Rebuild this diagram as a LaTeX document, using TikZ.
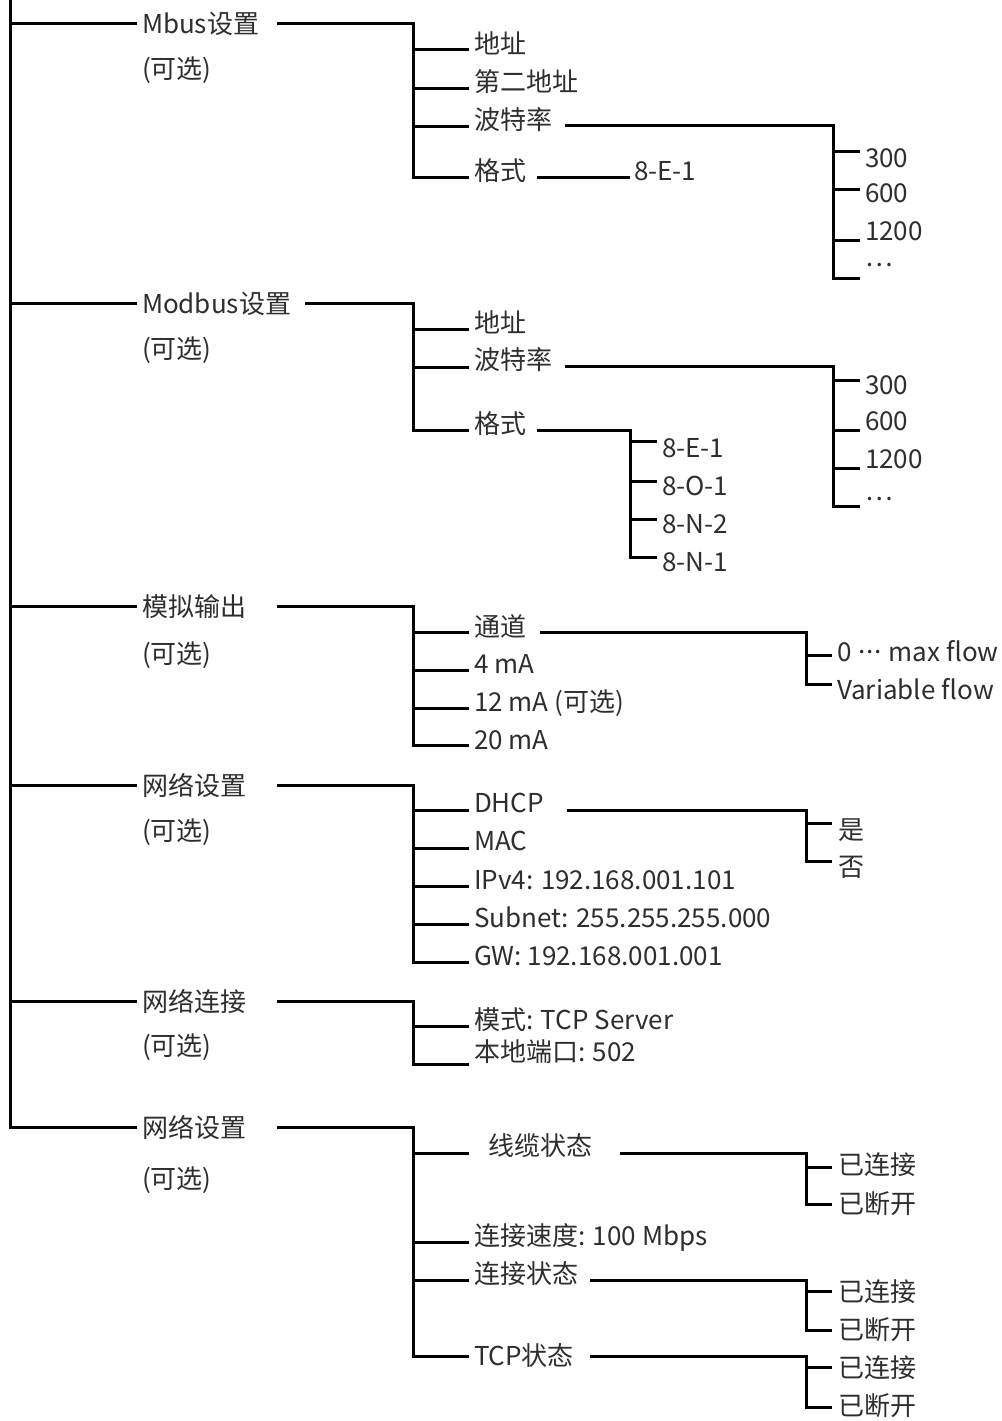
\documentclass[tikz,border=0pt]{standalone}
\usepackage{fontspec}
\setmainfont{Noto Sans CJK SC}
\definecolor{txt}{HTML}{2E2E2E}
\tikzset{
  lbl/.style={anchor=base west, inner sep=0pt, outer sep=0pt, text=txt, font=\fontsize{26}{30}\selectfont},
  wire/.style={line width=3pt, black, line join=miter}
}
\newcommand\middots{\raisebox{0.3em}{\kern1pt.\kern1pt.\kern1pt.\kern1pt}}
\begin{document}
\begin{tikzpicture}[x=1pt,y=-1pt]
\useasboundingbox (0,0) rectangle (1001,1421);
% ---------- trunk ----------
\coordinate (t0) at (10,0);
\coordinate (t1) at (10,24);   \coordinate (t1e) at (137,24);
\coordinate (t2) at (10,303);  \coordinate (t2e) at (137,303);
\coordinate (t3) at (10,606);  \coordinate (t3e) at (137,606);
\coordinate (t4) at (10,785);  \coordinate (t4e) at (137,785);
\coordinate (t5) at (10,1001); \coordinate (t5e) at (137,1001);
\coordinate (t6) at (10,1127); \coordinate (t6e) at (137,1127);
\draw[wire] (t0) -- (t6) -- (t6e);
\foreach \i in {1,...,5} \draw[wire] (t\i) -- (t\i e);

% ---------- level 1 labels ----------
\node[lbl] (g1) at (142,34) {Mbus设置};     \node[lbl] (g1o) at (142,78) {(可选)};
\node[lbl] (g2) at (142,313) {Modbus设置};  \node[lbl] (g2o) at (142,358) {(可选)};
\node[lbl] (g3) at (142,616) {模拟输出};     \node[lbl] (g3o) at (142,663) {(可选)};
\node[lbl] (g4) at (142,795) {网络设置};     \node[lbl] (g4o) at (142,840) {(可选)};
\node[lbl] (g5) at (142,1011) {网络连接};    \node[lbl] (g5o) at (142,1055) {(可选)};
\node[lbl] (g6) at (142,1137) {网络设置};    \node[lbl] (g6o) at (142,1188) {(可选)};

% ================= Group 1: Mbus =================
\coordinate (a1s) at (277,24); \coordinate (a1j) at (413,24);
\coordinate (a1jb) at (413,177); \coordinate (a1c4) at (469,177);
\coordinate (a1j1) at (413,50);  \coordinate (a1c1) at (469,50);
\coordinate (a1j2) at (413,88);  \coordinate (a1c2) at (469,88);
\coordinate (a1j3) at (413,126); \coordinate (a1c3) at (469,126);
\draw[wire] (a1s) -- (a1j) -- (a1jb) -- (a1c4);
\draw[wire] (a1j1) -- (a1c1);
\draw[wire] (a1j2) -- (a1c2);
\draw[wire] (a1j3) -- (a1c3);
\node[lbl] (m1) at (474,53) {地址};
\node[lbl] (m2) at (474,91) {第二地址};
\node[lbl] (m3) at (474,129) {波特率};
\node[lbl] (m4) at (474,180) {格式};
% baud
\coordinate (b1s) at (565,125); \coordinate (b1j) at (833,125);
\coordinate (b1jb) at (833,278); \coordinate (b1c4) at (860,278);
\coordinate (b1j1) at (833,151); \coordinate (b1c1) at (860,151);
\coordinate (b1j2) at (833,189); \coordinate (b1c2) at (860,189);
\coordinate (b1j3) at (833,240); \coordinate (b1c3) at (860,240);
\draw[wire] (b1s) -- (b1j) -- (b1jb) -- (b1c4);
\draw[wire] (b1j1) -- (b1c1);
\draw[wire] (b1j2) -- (b1c2);
\draw[wire] (b1j3) -- (b1c3);
\node[lbl] (r1) at (865,167) {300};
\node[lbl] (r2) at (865,202) {600};
\node[lbl] (r3) at (865,240) {1200};
\node[lbl] (r4) at (865,266) {…};
% format
\coordinate (f1s) at (537,177); \coordinate (f1e) at (630,177);
\draw[wire] (f1s) -- (f1e);
\node[lbl] (fm1) at (634,180) {8-E-1};

% ================= Group 2: Modbus =================
\coordinate (a2s) at (305,303); \coordinate (a2j) at (413,303);
\coordinate (a2jb) at (413,430); \coordinate (a2c3) at (469,430);
\coordinate (a2j1) at (413,329); \coordinate (a2c1) at (469,329);
\coordinate (a2j2) at (413,367); \coordinate (a2c2) at (469,367);
\draw[wire] (a2s) -- (a2j) -- (a2jb) -- (a2c3);
\draw[wire] (a2j1) -- (a2c1);
\draw[wire] (a2j2) -- (a2c2);
\node[lbl] (n1) at (474,332) {地址};
\node[lbl] (n2) at (474,369) {波特率};
\node[lbl] (n3) at (474,433) {格式};
% baud
\coordinate (b2s) at (565,366); \coordinate (b2j) at (833,366);
\coordinate (b2jb) at (833,506); \coordinate (b2c4) at (860,506);
\coordinate (b2j1) at (833,380); \coordinate (b2c1) at (860,380);
\coordinate (b2j2) at (833,430); \coordinate (b2c2) at (860,430);
\coordinate (b2j3) at (833,468); \coordinate (b2c3) at (860,468);
\draw[wire] (b2s) -- (b2j) -- (b2jb) -- (b2c4);
\draw[wire] (b2j1) -- (b2c1);
\draw[wire] (b2j2) -- (b2c2);
\draw[wire] (b2j3) -- (b2c3);
\node[lbl] (s1) at (865,394) {300};
\node[lbl] (s2) at (865,430) {600};
\node[lbl] (s3) at (865,468) {1200};
\node[lbl] (s4) at (865,500) {…};
% format
\coordinate (f2s) at (537,430); \coordinate (f2j) at (630,430);
\coordinate (f2jb) at (630,557); \coordinate (f2c4) at (657,557);
\coordinate (f2j1) at (630,441); \coordinate (f2c1) at (657,441);
\coordinate (f2j2) at (630,481); \coordinate (f2c2) at (657,481);
\coordinate (f2j3) at (630,519); \coordinate (f2c3) at (657,519);
\draw[wire] (f2s) -- (f2j) -- (f2jb) -- (f2c4);
\draw[wire] (f2j1) -- (f2c1);
\draw[wire] (f2j2) -- (f2c2);
\draw[wire] (f2j3) -- (f2c3);
\node[lbl] (fo1) at (662,457) {8-E-1};
\node[lbl] (fo2) at (662,495) {8-O-1};
\node[lbl] (fo3) at (662,533) {8-N-2};
\node[lbl] (fo4) at (662,571) {8-N-1};

% ================= Group 3: analog output =================
\coordinate (a3s) at (277,606); \coordinate (a3j) at (413,606);
\coordinate (a3jb) at (413,745); \coordinate (a3c4) at (469,745);
\coordinate (a3j1) at (413,632); \coordinate (a3c1) at (469,632);
\coordinate (a3j2) at (413,670); \coordinate (a3c2) at (469,670);
\coordinate (a3j3) at (413,708); \coordinate (a3c3) at (469,708);
\draw[wire] (a3s) -- (a3j) -- (a3jb) -- (a3c4);
\draw[wire] (a3j1) -- (a3c1);
\draw[wire] (a3j2) -- (a3c2);
\draw[wire] (a3j3) -- (a3c3);
\node[lbl] (o1) at (474,636) {通道};
\node[lbl] (o2) at (474,673) {4 mA};
\node[lbl] (o3) at (474,711) {12 mA (可选)};
\node[lbl] (o4) at (474,749) {20 mA};
\coordinate (c3s) at (540,632); \coordinate (c3j) at (806,632);
\coordinate (c3jb) at (806,684); \coordinate (c3c2) at (832,684);
\coordinate (c3j1) at (806,655); \coordinate (c3c1) at (832,655);
\draw[wire] (c3s) -- (c3j) -- (c3jb) -- (c3c2);
\draw[wire] (c3j1) -- (c3c1);
\node[lbl] (ch1) at (837,661) {0 \middots{} max flow};
\node[lbl] (ch2) at (837,699) {Variable flow};

% ================= Group 4: network settings =================
\coordinate (a4s) at (277,785); \coordinate (a4j) at (413,785);
\coordinate (a4jb) at (413,962); \coordinate (a4c5) at (469,962);
\coordinate (a4j1) at (413,810); \coordinate (a4c1) at (469,810);
\coordinate (a4j2) at (413,848); \coordinate (a4c2) at (469,848);
\coordinate (a4j3) at (413,886); \coordinate (a4c3) at (469,886);
\coordinate (a4j4) at (413,924); \coordinate (a4c4) at (469,924);
\draw[wire] (a4s) -- (a4j) -- (a4jb) -- (a4c5);
\draw[wire] (a4j1) -- (a4c1);
\draw[wire] (a4j2) -- (a4c2);
\draw[wire] (a4j3) -- (a4c3);
\draw[wire] (a4j4) -- (a4c4);
\node[lbl] (w1) at (474,812) {DHCP};
\node[lbl] (w2) at (474,850) {MAC};
\node[lbl] (w3) at (474,889) {IPv4: 192.168.001.101};
\node[lbl] (w4) at (474,927) {Subnet: 255.255.255.000};
\node[lbl] (w5) at (474,965) {GW: 192.168.001.001};
\coordinate (d4s) at (567,810); \coordinate (d4j) at (806,810);
\coordinate (d4jb) at (806,861); \coordinate (d4c2) at (832,861);
\coordinate (d4j1) at (806,823); \coordinate (d4c1) at (832,823);
\draw[wire] (d4s) -- (d4j) -- (d4jb) -- (d4c2);
\draw[wire] (d4j1) -- (d4c1);
\node[lbl] (y1) at (838,839) {是};
\node[lbl] (y2) at (838,876) {否};

% ================= Group 5: network connection =================
\coordinate (a5s) at (277,1001); \coordinate (a5j) at (413,1001);
\coordinate (a5jb) at (413,1064); \coordinate (a5c2) at (469,1064);
\coordinate (a5j1) at (413,1026); \coordinate (a5c1) at (469,1026);
\draw[wire] (a5s) -- (a5j) -- (a5jb) -- (a5c2);
\draw[wire] (a5j1) -- (a5c1);
\node[lbl] (k1) at (474,1029) {模式: TCP Server};
\node[lbl] (k2) at (474,1061) {本地端口: 502};

% ================= Group 6: network status =================
\coordinate (a6s) at (277,1127); \coordinate (a6j) at (413,1127);
\coordinate (a6jb) at (413,1356); \coordinate (a6c4) at (469,1356);
\coordinate (a6j1) at (413,1153); \coordinate (a6c1) at (469,1153);
\coordinate (a6j2) at (413,1242); \coordinate (a6c2) at (469,1242);
\coordinate (a6j3) at (413,1280); \coordinate (a6c3) at (469,1280);
\draw[wire] (a6s) -- (a6j) -- (a6jb) -- (a6c4);
\draw[wire] (a6j1) -- (a6c1);
\draw[wire] (a6j2) -- (a6c2);
\draw[wire] (a6j3) -- (a6c3);
\node[lbl] (v1) at (488,1155) {线缆状态};
\node[lbl] (v2) at (474,1245) {连接速度: 100 Mbps};
\node[lbl] (v3) at (474,1283) {连接状态};
\node[lbl] (v4) at (474,1365) {TCP状态};
% cable
\coordinate (e1s) at (620,1153); \coordinate (e1j) at (806,1153);
\coordinate (e1jb) at (806,1204); \coordinate (e1c2) at (832,1204);
\coordinate (e1j1) at (806,1167); \coordinate (e1c1) at (832,1167);
\draw[wire] (e1s) -- (e1j) -- (e1jb) -- (e1c2);
\draw[wire] (e1j1) -- (e1c1);
\node[lbl] (e1a) at (838,1174) {已连接};
\node[lbl] (e1b) at (838,1213) {已断开};
% link
\coordinate (e2s) at (590,1280); \coordinate (e2j) at (806,1280);
\coordinate (e2jb) at (806,1330); \coordinate (e2c2) at (832,1330);
\coordinate (e2j1) at (806,1291); \coordinate (e2c1) at (832,1291);
\draw[wire] (e2s) -- (e2j) -- (e2jb) -- (e2c2);
\draw[wire] (e2j1) -- (e2c1);
\node[lbl] (e2a) at (838,1301) {已连接};
\node[lbl] (e2b) at (838,1339) {已断开};
% tcp
\coordinate (e3s) at (590,1356); \coordinate (e3j) at (806,1356);
\coordinate (e3jb) at (806,1407); \coordinate (e3c2) at (832,1407);
\coordinate (e3j1) at (806,1367); \coordinate (e3c1) at (832,1367);
\draw[wire] (e3s) -- (e3j) -- (e3jb) -- (e3c2);
\draw[wire] (e3j1) -- (e3c1);
\node[lbl] (e3a) at (838,1377) {已连接};
\node[lbl] (e3b) at (838,1415) {已断开};
\end{tikzpicture}
\end{document}
